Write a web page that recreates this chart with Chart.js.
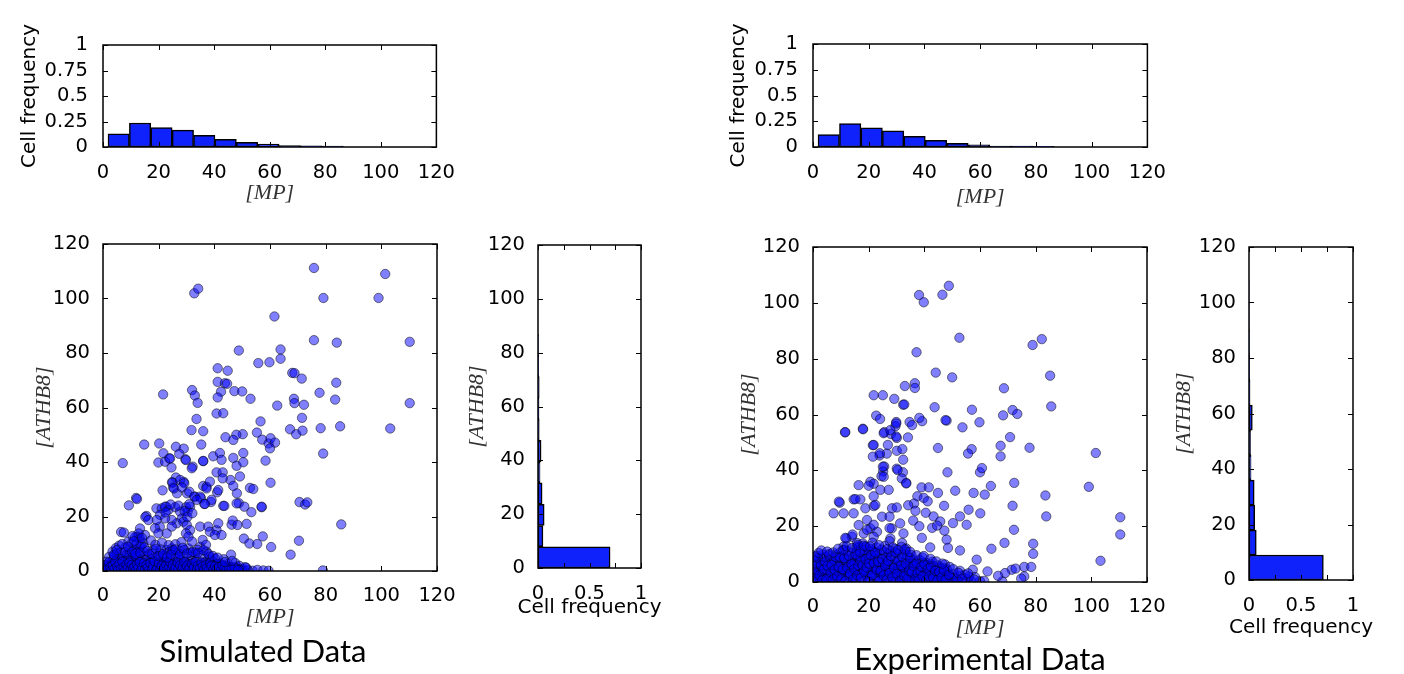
<!DOCTYPE html>
<html>
<head>
<meta charset="utf-8">
<script src="https://cdn.jsdelivr.net/npm/chart.js@4.4.1/dist/chart.umd.min.js"></script>
<style>
  body { margin: 0; background: #fff; }
  #wrap { position: relative; width: 1404px; height: 674px; overflow: hidden; background: #fff; }
  canvas { position: absolute; }
  .cap { position: absolute; width: 400px; text-align: center; font-family: Lato, 'Open Sans', sans-serif; font-size: 31px; line-height: 31px; color: #000; }
</style>
</head>
<body>
<div id="wrap">
  <canvas id="simTop"></canvas>
  <canvas id="simScatter"></canvas>
  <canvas id="simSide"></canvas>
  <canvas id="expTop"></canvas>
  <canvas id="expScatter"></canvas>
  <canvas id="expSide"></canvas>
  <div class="cap" style="left:63px;top:635px">Simulated Data</div>
  <div class="cap" style="left:780px;top:643px">Experimental Data</div>
</div>
<script>
// ---- data ----
const mpTicks = [0, 20, 40, 60, 80, 100, 120];
const freqTicks = [0, 0.25, 0.5, 0.75, 1];
const sideFreqLabels = ['0', '0.5', '1'];

// [MP] histograms (bin centres, cell frequency)
const simMpBins = [5.65, 13.35, 21.05, 28.75, 36.45, 44.15, 51.85, 59.55, 67.25, 74.95, 82.65];
const simMpFreq = [0.13, 0.235, 0.19, 0.165, 0.115, 0.075, 0.045, 0.028, 0.015, 0.012, 0.01];
const expMpBins = [5.65, 13.35, 21.05, 28.75, 36.45, 44.15, 51.85, 59.55, 67.25, 74.95, 82.65];
const expMpFreq = [0.12, 0.227, 0.185, 0.156, 0.104, 0.065, 0.036, 0.02, 0.01, 0.008, 0.006];

// [ATHB8] histograms
const simAthBins = [3.95, 11.85, 19.75, 27.65, 35.55, 43.45, 51.35, 59.25, 67.15, 75.05, 82.95];
const simAthFreq = [0.70, 0.048, 0.06, 0.04, 0.02, 0.03, 0.012, 0.01, 0.012, 0.006, 0.004];
const expAthBins = [4.5, 13.5, 22.5, 31.5, 40.5, 49.5, 58.5, 67.5, 76.5, 85.5, 94.5, 103.5];
const expAthFreq = [0.715, 0.07, 0.055, 0.05, 0.02, 0.015, 0.032, 0.01, 0.006, 0.004, 0.002, 0.002];

// scatter points [MP, ATHB8]
const simPoints = [
  [75.8,111.2],[101.4,109.0],[32.8,101.9],[34.2,103.6],[79.2,100.2],[99,100.2],[61.6,93.4],[75.8,84.7],[84,83.8],[110.2,84.1],
  [48.8,80.9],[63.8,81.3],[63.8,77.9],[55.8,76.3],[59.8,76.6],[41.2,74.4],[44.8,73.5],[68,72.7],[68.8,72.6],[71.4,70.6],
  [41.2,69.4],[43.8,68.9],[44.6,68.7],[32,66.4],[47.2,66],[50,65.9],[42.4,65.8],[21.6,64.8],[77.8,65.4],[83.8,69.1],
  [33,64.4],[34,61.7],[41.2,63.7],[53,63.2],[62.6,60.7],[68.6,63.2],[68.8,61.6],[72.2,61],[83.4,62.9],[110.2,61.6],
  [40.8,57.8],[43.2,57.9],[33.6,55.8],[56.6,54.9],[71.5,56.2],[31.8,51.7],[36,51.3],[55.3,50.8],[50.2,50.2],[47.9,50],
  [44,49.1],[46.8,48.1],[57.2,48.2],[59.5,46.8],[60.2,48.7],[61.8,47.1],[60,45],[67.2,52],[69.4,50.2],[71.7,51.5],
  [78.2,52.4],[85.2,53.1],[103.2,52.3],[79.1,43.1],[14.8,46.4],[20.2,46.8],[21.7,43.2],[19.9,39.8],[7.1,39.6],[26.2,45.6],
  [29,44.9],[23.8,41.3],[27.4,43],[29.6,41],[32.2,38.3],[24.6,38],[35.3,46.4],[36,40.3],[39.6,42.1],[42,43.3],
  [42.6,40.8],[46.8,41.5],[48,38.6],[50.4,43.3],[50.4,39.9],[60.2,32.4],[58.4,40.5],[49.2,34.7],[45.8,33.4],[46.8,31.2],
  [40.8,36.2],[43,36.2],[43,34],[52.8,30.5],[54,30.1],[48.1,28.5],[41,28.9],[38.8,25.3],[48.8,24.9],[50.8,23.6],
  [53.3,21.6],[57,23.4],[51.6,17.3],[46.2,17],[43.2,23.9],[70.6,25.3],[72.6,24.4],[73.4,25.2],[85.6,17.1],[50.6,11.9],
  [52.6,10.1],[55.4,9.9],[57.4,12.7],[60.4,8.8],[70.4,11.1],[67.4,6],[79,0.2],[46,6],
  [26.2,34.3],[24.8,32.6],[29,32.7],[25.2,30.7],[26.6,28.5],[30.2,28.5],[33,27.3],[35.2,26.7],[36,31.2],[37.2,30.9],
  [36.4,24.6],[21.4,29.6],[6.5,14.3],[9.3,24.1],[11.9,26.8],[12.2,26.4],[19.2,23],[22.7,23.6],[15.6,20.2],[15.2,19.8],
  [20.4,16.3],[21.1,23],[20.5,20.6],[22.3,23.6],[23.5,22.4],[25.9,23.4],[27.7,21.8],[29.8,23.4],[30.4,21.8],[31.3,23.6],
  [28.3,19.3],[26.5,17.5],[24.7,18.7],[22.3,19.3],[19.3,18.7],[18.7,15.7],[19.9,13.8],[22.9,13.8],[24.7,16.3],[28.9,18.1],
  [30.1,16.9],[31.3,15],[29.8,13.8],[30.7,12.6],[34.9,16.3],[37.8,16.3],[38.4,14.4],[40.8,15],[41.4,17.5],[40.2,13.2],
  [42.6,13.2],[25,32.4],[27.7,33.4],[29.2,32.2],[25.5,30.3],[28.3,30.7],[31,29.1],[32.8,27.3],[34.9,27.3],[37.2,30.3],
  [39,26.1],[36.6,24.6],[33.7,26.1],[7.5,14.1],[12.3,12.6],[15.1,13.2],[13.3,8.9],[10.3,10.2],[9.1,10.8],[13,5.9],
  [14.5,7.1],[4.9,6.5],[6.1,5.3],[7.3,4],[8.5,5.9],[10.9,5.3],[15.7,5.3],[18.1,7.7],[20.5,6.5],[22.9,7.7],
  [24.7,8.3],[26.5,6.5],[28.9,5.3],[30.7,8.3],[33.1,6.5],[34.9,8.9],[37.2,7.1],[38.4,5.3],[40.2,4.6],[42,2.8],
  [22.3,40.1],[24.1,41.3],[29.8,40.7],[31.9,37.7],[36,40.4],[43.6,23.9],[48,24.8],[57,23.6],[46.6,18.5],[48.3,16.9],
  [41.4,29.7],[38.4,32.8],[16.3,18.7],[13.3,15.6],[13.1,12],[14.5,10.2],[11.7,8.2],[9.5,7.4],[17.2,11.2],[18.8,9.6],
  [21.2,10.4],[23.6,9.5],[26,9.8],[28.2,10.6],[32,10.8],[35.8,11.4],[37,9.6],
  [0.5,0.3],[1.2,1.5],[1.8,0.2],[2.5,2.6],[3.1,0.8],[3.6,4.2],[4.2,1.7],[4.8,0.4],[5.5,3.1],[6.0,1.2],
  [6.6,0.1],[7.2,2.2],[7.9,0.9],[8.5,3.6],[9.1,0.3],[9.8,1.8],[10.4,0.6],[11.0,2.9],[11.7,0.2],[12.3,1.4],
  [12.9,4.1],[13.6,0.7],[14.2,2.3],[14.9,0.1],[15.5,1.6],[16.2,3.3],[16.8,0.5],[17.4,1.9],[18.1,0.2],[18.7,2.8],
  [19.4,0.9],[20.0,4.3],[20.7,1.3],[21.3,0.4],[22.0,2.5],[22.6,0.8],[23.3,3.7],[23.9,0.2],[24.6,1.6],[25.2,0.6],
  [25.9,2.9],[26.5,0.3],[27.2,1.5],[27.8,4.0],[28.5,0.7],[29.1,2.2],[29.8,0.2],[30.4,1.1],[31.1,3.2],[31.7,0.5],
  [32.4,1.8],[33.0,0.2],[33.7,2.6],[34.3,0.9],[35.0,1.4],[35.6,0.3],[36.3,3.0],[36.9,1.0],[37.6,0.4],[38.2,2.1],
  [38.9,0.6],[39.5,1.3],[40.2,0.2],[41.0,1.9],[41.8,0.5],[42.6,1.2],[43.5,0.3],[44.3,0.9],[45.2,0.2],[46.1,1.0],
  [47.0,0.4],[48.2,1.5],[49.4,0.2],[50.5,0.6],[52.0,0.3],[53.8,0.1],[55.5,0.4],[57.6,0.2],[59.5,0.1],
  [2.2,5.2],[3.4,7.1],[4.6,8.4],[5.8,9.3],[6.4,6.8],[8.0,8.6],[9.6,6.4],[11.2,7.6],[12.0,9.8],[11.5,12.4],
  [12.8,13.8],[10.6,12.8],[16.5,6.2],[17.5,4.4],[19.2,5.1],[21.6,3.9],[24.0,4.6],[25.8,5.6],[27.5,7.3],[29.5,3.4],
  [31.8,5.2],[33.8,4.1],[35.8,5.7],[36.8,3.3],[39.0,3.8],[43.4,4.3],[45.0,2.6],[47.5,2.9],[49.0,1.9],[51.5,1.2],
  [0.9,1.1],[1.6,0.6],[2.9,1.9],[3.9,0.3],[4.5,2.8],[5.2,0.9],[6.3,2.4],[7.5,0.5],[8.2,1.6],[9.4,2.5],
  [10.1,0.2],[10.9,1.2],[11.4,3.4],[12.6,0.5],[13.3,2.0],[14.6,1.1],[15.2,3.9],[16.0,0.3],[17.1,1.2],[17.8,2.6],
  [18.9,0.6],[19.7,2.0],[20.4,0.2],[21.6,1.7],[22.3,3.1],[23.1,1.0],[24.3,2.4],[25.5,0.2],[26.2,1.9],[27.5,0.8],
  [28.8,2.7],[30.1,0.6],[30.9,2.0],[32.0,0.9],[33.4,1.4],[34.6,0.4],[35.3,2.2],[36.6,0.2],[37.9,1.6],[39.2,0.9],
  [40.6,2.4],[41.4,0.3],[42.2,1.6],[43.9,0.6],[44.8,1.8],[46.6,0.2],[47.6,0.9],[50.0,0.2],[51.0,1.4],
  [12.4,7.0],[13.8,9.7],[11.1,10.9],[14.0,12.1],[12.0,5.0],[20.8,7.9],[22.0,5.6],[23.8,6.9],[25.1,7.6],[27.0,5.0],
  [29.2,7.7],[31.5,6.7],[33.9,7.8],[24.3,24.4],[27.1,24.0],[29.3,22.0],[31.0,24.5],[22.5,21.5],[30.3,19.8],[32.1,21.2],
  [0.3,2.2],[1.0,3.4],[2.0,1.2],[2.7,0.4],[3.3,2.4],[4.0,5.6],[4.7,3.8],[5.6,1.9],[6.8,4.4],[7.6,3.1],
  [8.8,0.8],[9.2,4.8],[10.0,3.7],[10.7,1.6],[11.8,5.4],[12.9,2.7],[13.9,3.4],[14.4,0.4],[15.9,2.3],[16.6,1.1],
  [17.9,3.5],[18.4,1.4],[19.9,2.9],[20.9,0.6],[21.9,3.3],[22.8,1.8],[23.6,2.9],[24.9,1.1],[26.7,2.4],[28.1,1.2],
  [29.4,0.5],[30.7,2.5],[31.4,1.4],[32.8,3.0],[34.0,1.7],[35.9,0.8],[37.2,2.4],[38.6,1.4],[40.0,0.6],[41.3,2.6],
  [43.0,1.9],[44.0,0.2],[45.7,1.4],[48.8,0.6],
  [0.2,0.9],[0.7,2.0],[1.4,0.4],[2.1,3.2],[2.6,1.4],[3.0,0.2],[3.5,2.0],[4.1,0.7],[4.4,3.3],[5.0,1.5],
  [5.4,0.3],[5.9,2.6],[6.5,0.8],[7.0,3.4],[7.4,1.3],[8.0,0.2],[8.4,2.4],[8.9,1.1],[9.5,3.0],[9.9,0.5],
  [10.3,2.2],[10.8,0.9],[11.3,1.6],[11.9,0.4],[12.2,2.5],[12.7,1.2],[13.2,3.3],[13.7,0.2],[14.1,1.4],[14.7,2.8],
  [15.1,0.6],[15.6,2.1],[16.1,1.3],[16.5,0.2],[17.0,2.9],[17.6,0.6],[18.0,1.6],[18.5,3.6],[19.1,0.3],[19.6,1.2],
  [20.1,2.6],[20.6,0.8],[21.1,1.9],[21.7,0.3],[22.1,1.3],[22.7,2.3],[23.2,0.5],[23.8,1.5],[24.1,3.4],[24.7,0.9],
  [25.1,2.1],[25.7,0.4],[26.1,1.4],[26.8,3.1],[27.1,0.6],[27.7,2.0],[28.3,0.3],[28.7,1.6],[29.2,3.5],[29.7,0.9],
  [30.2,1.9],[30.6,0.2],[31.2,1.2],[31.9,2.7],[32.2,0.6],[32.7,1.4],[33.2,3.3],[33.8,0.7],[34.1,2.0],[34.8,1.0],
  [35.4,3.1],[35.8,1.6],[36.4,0.6],[36.9,2.1],[37.4,1.1],[38.0,0.3],[38.5,2.9],[39.0,1.9],[39.7,0.5],[40.3,1.7],
  [40.9,0.8],[41.6,1.4],[42.4,0.4],[42.9,2.1],[43.7,1.2],[44.5,0.5],[45.4,1.1],[46.3,0.6],[47.3,1.3],[48.5,0.3],
  [3.9,6.0],[5.0,7.7],[6.9,9.9],[7.9,6.9],[9.0,8.9],[10.5,7.0],[11.6,6.3],[13.4,6.7],[14.9,8.6],[16.0,7.3],
  [17.7,6.3],[19.0,8.2],[20.0,5.5],[21.6,6.2],[23.0,5.0],[24.4,6.0],[26.0,7.9],[27.7,6.1],[28.6,8.5],[30.2,6.4],
  [32.3,7.0],[34.1,6.6],[36.1,7.6],[37.9,6.2],[39.5,5.5],[41.2,4.9],[43.8,3.3],[46.4,3.7]
];

const expPoints = [
  [48.8,106.1],[38.1,102.8],[46.5,102.9],[39.8,100.2],[52.6,87.5],[78.9,84.9],[82.2,87],[37.2,82.3],[44.1,75],[50,73.3],
  [85.2,73.9],[33,70.2],[36.6,71.2],[36.6,69.5],[21.8,66.9],[25.1,66.9],[29.2,65.6],[32.4,63.5],[32.8,63.6],[43.7,62.6],
  [68.6,69.4],[85.6,62.9],[57.1,61.7],[59.8,57.2],[71.7,61.6],[73.4,60.2],[68.3,59.7],[22.7,59.6],[24.1,58.4],[29.9,57.3],
  [29.6,55.8],[34.7,57.3],[35.6,56.2],[39.2,57.6],[38.2,58.8],[48,57.8],[47.6,58],[53.7,55.4],[17.9,54.9],[11.5,53.7],
  [25.6,53.7],[28,53],[30.1,51.6],[34.1,51.8],[70.8,51.9],[67.4,48.8],[67.4,45],[77.8,48.1],[44.9,48],[57,47.6],
  [55.7,46],[21.5,49],[23.9,45.3],[26.5,46],[30.1,47],[32.1,47.6],[32.4,43.8],[30.1,40.6],[32.3,39.3],[25.6,41.4],
  [25.2,39.6],[24.6,37.9],[101.6,46.2],[48.3,39.3],[60,39.3],[60.7,40.8],[99.1,34.1],[72.3,35.5],[63.9,34.4],[51.1,32.7],
  [44.9,31.9],[39,33.9],[41.6,33.9],[37.5,30.7],[39.8,30.1],[36.3,28.1],[33.5,35.5],[83.5,31],[71.7,27.3],[60.1,24.6],
  [55.9,25.9],[57.7,31.9],[61.7,31.3],[47.1,27.3],[43.3,23.5],[45.7,21.7],[52.8,23.5],[50.3,21.1],[55.2,20.5],[83.8,23.5],
  [72.2,18.7],[110.4,23.2],[110.4,17],[103.3,7.6],[68.8,14],[79.1,13.7],[79.1,10.1],[64.1,11.9],[62.7,3.8],[52.8,11.3],
  [48.5,12.2],[48,15.2],[42.1,12.4],[39.1,15.8],[58.8,8],[57.4,4.4],[71.4,4.4],[69,3.2],[75.9,5.4],[78.4,5.4],
  [75.9,2],[60,0.3],[68,0.2],
  [11.6,53.6],[18,54.7],[21.8,49.1],[25.4,53.3],[27.8,54.4],[29.9,56.8],[29.9,52.1],[26.9,49.1],[24,46.1],[21.5,44.9],
  [25.1,41.3],[25.4,37.7],[30.4,40.1],[31.9,37.1],[33.5,35.3],[16.4,34.7],[20.6,35.9],[21.8,35.2],[24.2,33],[27.2,33],
  [9.6,28.4],[9.3,28.8],[14.6,29.6],[17,29.6],[7.4,24.6],[11,24.6],[14.6,24.6],[18.8,26.4],[21.8,27.2],[22.4,27.6],
  [24.8,23.4],[28.4,26.4],[30.1,26.7],[27.5,23.4],[28.3,19.2],[31.3,21],[32.5,17.4],[19.4,22.2],[20.6,19.2],[23,18],
  [21.8,16.2],[18.2,17.4],[14,16.2],[12,15.6],[27.8,15.6],[32,14],[33.5,12],[11,12.7],[15.8,12.7],[18.8,12.7],
  [21.8,10.9],[16.4,20.4],[20,34.5],[15.2,29.7],[21.8,30.7],[11.6,15.8],[14.2,17],[11.4,11.6],[15.8,14],[19.4,18.7],
  [21.8,20.5],[27.5,19.3],[27.5,14.6],[36,22],[38.2,20],[40.5,24.8],[42.8,19.4],[44.6,20.2],[47.2,18.4],[36.8,25.5],
  [34.2,27.5],[41.2,28.9],
  [0.6,0.4],[1.4,2.1],[1.9,5.2],[2.6,0.9],[3.2,3.6],[3.8,6.8],[4.4,1.5],[5.0,4.4],[5.6,8.1],[6.2,0.3],
  [6.8,2.9],[7.4,5.9],[8.0,1.2],[8.6,7.4],[9.2,3.8],[9.8,0.6],[10.4,5.3],[11.0,9.2],[11.6,2.4],[12.2,6.6],
  [12.8,0.2],[13.4,4.1],[14.0,10.3],[14.6,1.7],[15.2,7.8],[15.8,3.2],[16.4,12.5],[17.0,5.4],[17.6,0.8],[18.2,9.6],
  [18.8,2.7],[19.4,6.9],[20.0,11.2],[20.6,0.4],[21.2,4.6],[21.8,8.3],[22.4,1.9],[23.0,10.6],[23.6,5.8],[24.2,0.7],
  [24.8,3.4],[25.4,7.2],[26.0,1.3],[26.6,5.1],[27.2,0.3],[27.8,8.7],[28.4,2.6],[29.0,6.2],[29.6,0.9],[30.2,4.3],
  [30.8,9.1],[31.4,1.6],[32.0,6.8],[32.6,0.2],[33.2,3.7],[33.8,5.5],[34.4,1.1],[35.0,7.4],[35.6,2.8],[36.2,0.5],
  [36.8,4.9],[37.4,1.8],[38.0,6.1],[38.6,0.4],[39.2,3.1],[39.8,5.6],[40.4,1.2],[41.0,3.9],[41.6,0.3],[42.2,6.4],
  [42.8,2.2],[43.4,4.5],[44.0,0.8],[44.6,2.9],[45.2,1.4],[45.8,5.3],[46.4,0.5],[47.0,2.4],[47.8,3.6],[48.6,1.0],
  [49.4,2.1],[50.2,0.3],[51.0,1.5],[52.0,0.6],[53.0,2.3],[54.2,0.2],[55.4,1.1],[56.8,0.4],
  [1.0,7.6],[2.2,3.1],[3.0,8.6],[4.0,0.2],[5.3,1.9],[6.4,7.1],[7.1,3.8],[8.3,9.8],[9.5,1.3],[10.1,3.0],
  [10.8,6.9],[12.0,4.2],[13.1,8.4],[13.8,1.1],[15.0,5.2],[16.0,9.4],[16.9,1.9],[17.9,13.8],[18.5,4.4],[19.8,8.8],
  [20.9,2.3],[22.1,6.1],[22.8,12.4],[23.9,3.1],[24.9,9.6],[26.2,3.5],[27.0,10.1],[28.1,4.6],[29.3,8.2],[30.5,2.1],
  [31.0,6.0],[32.2,3.6],[33.5,8.4],[34.7,4.8],[35.9,6.5],[37.1,3.4],[38.3,7.9],[39.5,4.4],[40.7,6.8],[41.9,2.9],
  [43.1,5.8],[44.3,4.2],[46.0,3.8],[47.4,6.3],[29.5,11.8],[31.8,12.6],[33.2,10.9],[35.4,9.6],[25.8,12.9],[21.4,14.1],
  [58.2,1.8],[61.5,0.4],[66.5,2.2],[72.8,4.8],[74.8,1.2],
  [0.8,2.8],[1.7,4.0],[2.4,6.4],[3.5,1.2],[4.2,9.0],[4.9,2.9],[5.9,5.5],[6.6,1.6],[7.7,8.3],[8.8,4.6],
  [9.9,8.4],[10.6,1.9],[11.3,4.0],[12.5,2.8],[13.0,6.1],[14.3,3.6],[14.9,9.3],[16.2,6.7],[16.6,2.9],[17.3,10.6],
  [18.0,7.1],[19.1,3.6],[19.6,10.0],[20.4,5.5],[21.5,7.4],[22.6,3.8],[23.3,8.6],[24.4,5.0],[25.1,1.7],[25.6,10.8],
  [26.8,7.7],[27.6,2.1],[28.6,5.6],[29.8,7.0],[30.9,0.8],[31.6,4.4],[32.4,9.9],[33.6,2.4],[34.3,6.2],[35.2,1.6],
  [36.0,8.0],[36.9,2.0],[37.7,5.1],[38.8,2.5],[39.6,7.0],[40.5,3.3],[41.3,5.3],[42.5,1.0],[43.7,3.0],[45.0,5.0],
  [45.5,2.2],[46.9,1.2],[48.1,4.5],[49.8,1.1],[17.2,8.3],[19.0,12.6],[21.0,11.7],[15.6,11.3],[13.6,7.0],[26.4,9.0],
  [0.4,5.8],[1.2,9.4],[1.5,0.5],[2.8,4.8],[3.6,9.9],[4.6,6.2],[5.5,0.9],[6.0,10.1],[7.0,7.0],[7.9,2.5],
  [8.9,6.0],[9.7,10.6],[10.3,3.9],[11.8,7.8],[12.6,11.0],[13.2,2.2],[14.5,5.9],[15.4,1.0],[16.0,4.4],[16.8,8.0],
  [17.7,3.1],[18.6,11.5],[19.5,1.5],[20.3,8.4],[21.0,3.0],[21.9,5.1],[22.5,9.4],[23.3,1.2],[24.0,7.0],[24.6,11.6],
  [25.3,4.2],[26.4,6.5],[27.4,4.0],[28.0,11.1],[28.8,0.6],[29.4,3.3],[30.0,10.3],[30.6,5.4],[31.9,2.7],[32.7,5.0],
  [33.9,9.5],[34.6,0.7],[35.3,3.1],[36.5,6.2],[37.8,1.1],[38.5,4.3],[39.3,8.8],[40.1,2.4],[41.0,6.0],[42.0,4.1],
  [42.9,7.3],[44.1,1.9],[44.8,5.9],[46.2,2.7],[47.2,4.9],[48.4,2.6],[49.1,5.4],[50.6,2.9],[51.6,0.9],[52.8,4.0],
  [54.6,2.6],[56.0,1.9],
  [0.3,3.8],[0.9,6.6],[1.3,1.2],[1.8,8.5],[2.3,2.4],[2.9,6.0],[3.3,0.6],[3.9,4.5],[4.3,7.4],[4.8,1.0],
  [5.2,5.8],[5.8,9.6],[6.3,3.4],[6.7,6.1],[7.2,0.9],[7.8,4.4],[8.2,8.9],[8.7,2.0],[9.3,5.4],[9.6,9.0],
  [10.2,1.2],[10.7,4.6],[11.2,8.6],[11.7,0.4],[12.3,5.2],[12.9,9.4],[13.3,3.0],[13.9,6.4],[14.4,0.9],[14.8,4.6],
  [15.3,9.9],[15.9,2.4],[16.3,5.9],[16.8,10.8],[17.2,1.4],[17.8,6.0],[18.3,3.7],[18.9,8.2],[19.3,5.2],[19.9,0.3],
  [20.2,6.6],[20.8,9.6],[21.3,2.4],[21.9,6.8],[22.3,10.6],[22.9,4.4],[23.4,7.2],[23.8,0.4],[24.3,4.0],[24.9,8.2],
  [25.4,2.4],[25.9,5.9],[26.5,0.8],[27.0,7.5],[27.5,3.2],[28.1,9.3],[28.5,1.6],[29.1,5.0],[29.6,10.6],[30.1,2.9],
  [30.7,7.6],[31.2,0.4],[31.7,5.9],[32.1,9.0],[32.8,2.2],[33.4,6.5],[33.9,1.2],[34.5,4.0],[34.9,8.6],[35.5,3.6],
  [36.1,5.7],[36.6,1.0],[37.2,6.9],[37.6,3.2],[38.2,0.8],[38.9,5.5],[39.4,2.0],[40.0,6.5],[40.6,0.6],[41.2,4.6],
  [41.8,2.0],[42.4,5.6],[43.2,1.5],[43.9,4.0],[44.7,0.6],[45.4,3.6],[46.2,1.6],[47.0,4.2],[47.6,0.7],[48.9,2.6],
  [0.6,9.1],[2.0,10.4],[3.0,11.3],[5.1,10.9],[7.3,10.6],[9.0,11.9],[10.9,11.4],[12.1,12.8],[14.1,12.2],[16.1,13.3],
  [18.3,13.0],[20.5,12.8],[23.7,13.2],[26.7,11.8],[28.7,12.4],[30.5,11.5],[33.0,11.7],[34.9,10.8],[37.2,9.6],[39.8,9.3],
  [42.2,8.3],[44.3,7.4],[46.5,6.6],[50.4,4.6],[52.2,3.3],[53.6,1.2],[55.7,3.1],[57.9,0.9]
];

// ---- styling ----
Chart.defaults.font.family = "'DejaVu Sans', sans-serif";
Chart.defaults.font.size = 19;
Chart.defaults.color = '#000';

const barBlue = '#0f22fb';
const tickFont = { family: "'DejaVu Sans', sans-serif", size: 19.5 };
const mathFont = { family: "'Liberation Serif', serif", style: 'italic', size: 22 };
const mathColor = '#333';
const sansTitle = { family: "'DejaVu Sans', sans-serif", size: 20 };

// box around plot area with inward ticks on all four sides
const frame = {
  id: 'frame',
  afterDatasetsDraw(chart) {
    const { ctx, chartArea: a, scales } = chart;
    const len = 5;
    ctx.save();
    ctx.strokeStyle = '#000';
    ctx.lineWidth = 1;
    ctx.beginPath();
    scales.x.ticks.forEach(t => {
      const px = Math.round(scales.x.getPixelForValue(t.value)) + 0.5;
      ctx.moveTo(px, a.bottom); ctx.lineTo(px, a.bottom - len);
      ctx.moveTo(px, a.top); ctx.lineTo(px, a.top + len);
    });
    scales.y.ticks.forEach(t => {
      const py = Math.round(scales.y.getPixelForValue(t.value)) + 0.5;
      ctx.moveTo(a.left, py); ctx.lineTo(a.left + len, py);
      ctx.moveTo(a.right, py); ctx.lineTo(a.right - len, py);
    });
    ctx.stroke();
    ctx.lineWidth = 1.5;
    ctx.strokeRect(a.left, a.top, a.width, a.height);
    ctx.restore();
  }
};

// size and place a canvas so the plot area lands on the given box
function place(id, plot, yTitleX, yTitleLH, xTitleY, xTitleLH) {
  const c = document.getElementById(id);
  const pad = 4, top = plot.t - 40, right = plot.r + 24;
  const left = Math.round(yTitleX - yTitleLH / 2 - pad);
  const bottom = Math.round(xTitleY + xTitleLH / 2 + pad);
  c.style.left = left + 'px';
  c.style.top = top + 'px';
  c.width = right - left;
  c.height = bottom - top;
  return { c, top, yW: plot.l - left, xH: bottom - plot.b, padTop: plot.t - top, padRight: right - plot.r };
}

function baseOpts(g) {
  return {
    responsive: false,
    animation: false,
    events: [],
    layout: { padding: { top: g.padTop, right: g.padRight, left: 0, bottom: 0 } },
    plugins: { legend: { display: false }, tooltip: { enabled: false } }
  };
}

function topHist(id, plot, yTitleX, xTitleY, bins, freq) {
  const g = place(id, plot, yTitleX, 24, xTitleY, 26.4);
  const opts = baseOpts(g);
  opts.scales = {
    x: {
      type: 'linear', min: 0, max: 120, offset: false,
      afterBuildTicks: s => { s.ticks = mpTicks.map(v => ({ value: v })); },
      ticks: { font: tickFont, padding: 6, maxRotation: 0, autoSkip: false },
      grid: { display: false, offset: false }, border: { display: false },
      title: { display: true, text: '[MP]', font: mathFont, color: mathColor, padding: { top: 0, bottom: 4 } },
      afterFit: s => { s.height = g.xH; }
    },
    y: {
      type: 'linear', min: 0, max: 1,
      afterBuildTicks: s => { s.ticks = freqTicks.map(v => ({ value: v })); },
      ticks: { font: tickFont, padding: 7, autoSkip: false, callback: v => String(v) },
      grid: { display: false }, border: { display: false },
      title: { display: true, text: 'Cell frequency', font: sansTitle, padding: { top: 4, bottom: 0 } },
      afterFit: s => { s.width = g.yW; }
    }
  };
  new Chart(g.c, {
    type: 'bar',
    data: { datasets: [{
      data: bins.map((b, i) => ({ x: b, y: freq[i] })),
      backgroundColor: barBlue, borderColor: '#000', borderWidth: 1.5, borderSkipped: false,
      barPercentage: 1, categoryPercentage: 1
    }] },
    options: opts,
    plugins: [frame]
  });
}

function sideHist(id, plot, yTitleX, xTitleY, bins, freq) {
  const g = place(id, plot, yTitleX, 26.4, xTitleY, 24);
  const opts = baseOpts(g);
  opts.indexAxis = 'y';
  opts.scales = {
    x: {
      type: 'linear', min: 0, max: 1,
      afterBuildTicks: s => { s.ticks = freqTicks.map(v => ({ value: v })); },
      ticks: { font: tickFont, padding: 6, maxRotation: 0, autoSkip: false,
        callback: v => sideFreqLabels.includes(String(v)) ? String(v) : '' },
      grid: { display: false }, border: { display: false },
      title: { display: false },
      afterFit: s => { s.height = g.xH; }
    },
    y: {
      type: 'linear', min: 0, max: 120, offset: false,
      afterBuildTicks: s => { s.ticks = mpTicks.map(v => ({ value: v })); },
      ticks: { font: tickFont, padding: 5, autoSkip: false },
      grid: { display: false, offset: false }, border: { display: false },
      title: { display: true, text: '[ATHB8]', font: mathFont, color: mathColor, padding: { top: 4, bottom: 0 } },
      afterFit: s => { s.width = g.yW; }
    }
  };
  // axis title wider than the narrow plot, so it is drawn here without squeezing
  const freqTitle = {
    id: 'freqTitle',
    afterDraw(chart) {
      const { ctx, scales: { x } } = chart;
      ctx.save();
      ctx.font = "20px 'DejaVu Sans', sans-serif";
      ctx.fillStyle = '#000';
      ctx.textAlign = 'center';
      ctx.textBaseline = 'middle';
      ctx.fillText('Cell frequency', (x.left + x.right) / 2, xTitleY - g.top);
      ctx.restore();
    }
  };
  new Chart(g.c, {
    type: 'bar',
    data: { datasets: [{
      data: bins.map((b, i) => ({ x: freq[i], y: b })),
      backgroundColor: barBlue, borderColor: '#000', borderWidth: 1.5, borderSkipped: false,
      barPercentage: 1, categoryPercentage: 1
    }] },
    options: opts,
    plugins: [frame, freqTitle]
  });
}

function scatterPlot(id, plot, yTitleX, xTitleY, points) {
  const g = place(id, plot, yTitleX, 26.4, xTitleY, 26.4);
  const opts = baseOpts(g);
  opts.scales = {
    x: {
      type: 'linear', min: 0, max: 120,
      afterBuildTicks: s => { s.ticks = mpTicks.map(v => ({ value: v })); },
      ticks: { font: tickFont, padding: 5, maxRotation: 0, autoSkip: false },
      grid: { display: false }, border: { display: false },
      title: { display: true, text: '[MP]', font: mathFont, color: mathColor, padding: { top: 0, bottom: 4 } },
      afterFit: s => { s.height = g.xH; }
    },
    y: {
      type: 'linear', min: 0, max: 120,
      afterBuildTicks: s => { s.ticks = mpTicks.map(v => ({ value: v })); },
      ticks: { font: tickFont, padding: 5, autoSkip: false },
      grid: { display: false }, border: { display: false },
      title: { display: true, text: '[ATHB8]', font: mathFont, color: mathColor, padding: { top: 4, bottom: 0 } },
      afterFit: s => { s.width = g.yW; }
    }
  };
  new Chart(g.c, {
    type: 'scatter',
    data: { datasets: [{
      data: points.map(p => ({ x: p[0], y: p[1] })),
      pointRadius: 4.7,
      backgroundColor: 'rgba(0,0,255,0.5)',
      borderColor: 'rgba(0,0,0,0.5)',
      borderWidth: 1,
      clip: 0
    }] },
    options: opts,
    plugins: [frame]
  });
}

// left figure: simulated
topHist('simTop', { l: 103, t: 45, r: 437, b: 147 }, 30, 193, simMpBins, simMpFreq);
scatterPlot('simScatter', { l: 103, t: 244, r: 437, b: 571 }, 44, 617, simPoints);
sideHist('simSide', { l: 538, t: 245, r: 641, b: 568 }, 477, 608, simAthBins, simAthFreq);

// right figure: experimental
topHist('expTop', { l: 813, t: 44, r: 1148, b: 147 }, 739, 197, expMpBins, expMpFreq);
scatterPlot('expScatter', { l: 813, t: 247, r: 1147, b: 582 }, 749, 628, expPoints);
sideHist('expSide', { l: 1249, t: 247, r: 1353, b: 580 }, 1184, 628, expAthBins, expAthFreq);
</script>
</body>
</html>
